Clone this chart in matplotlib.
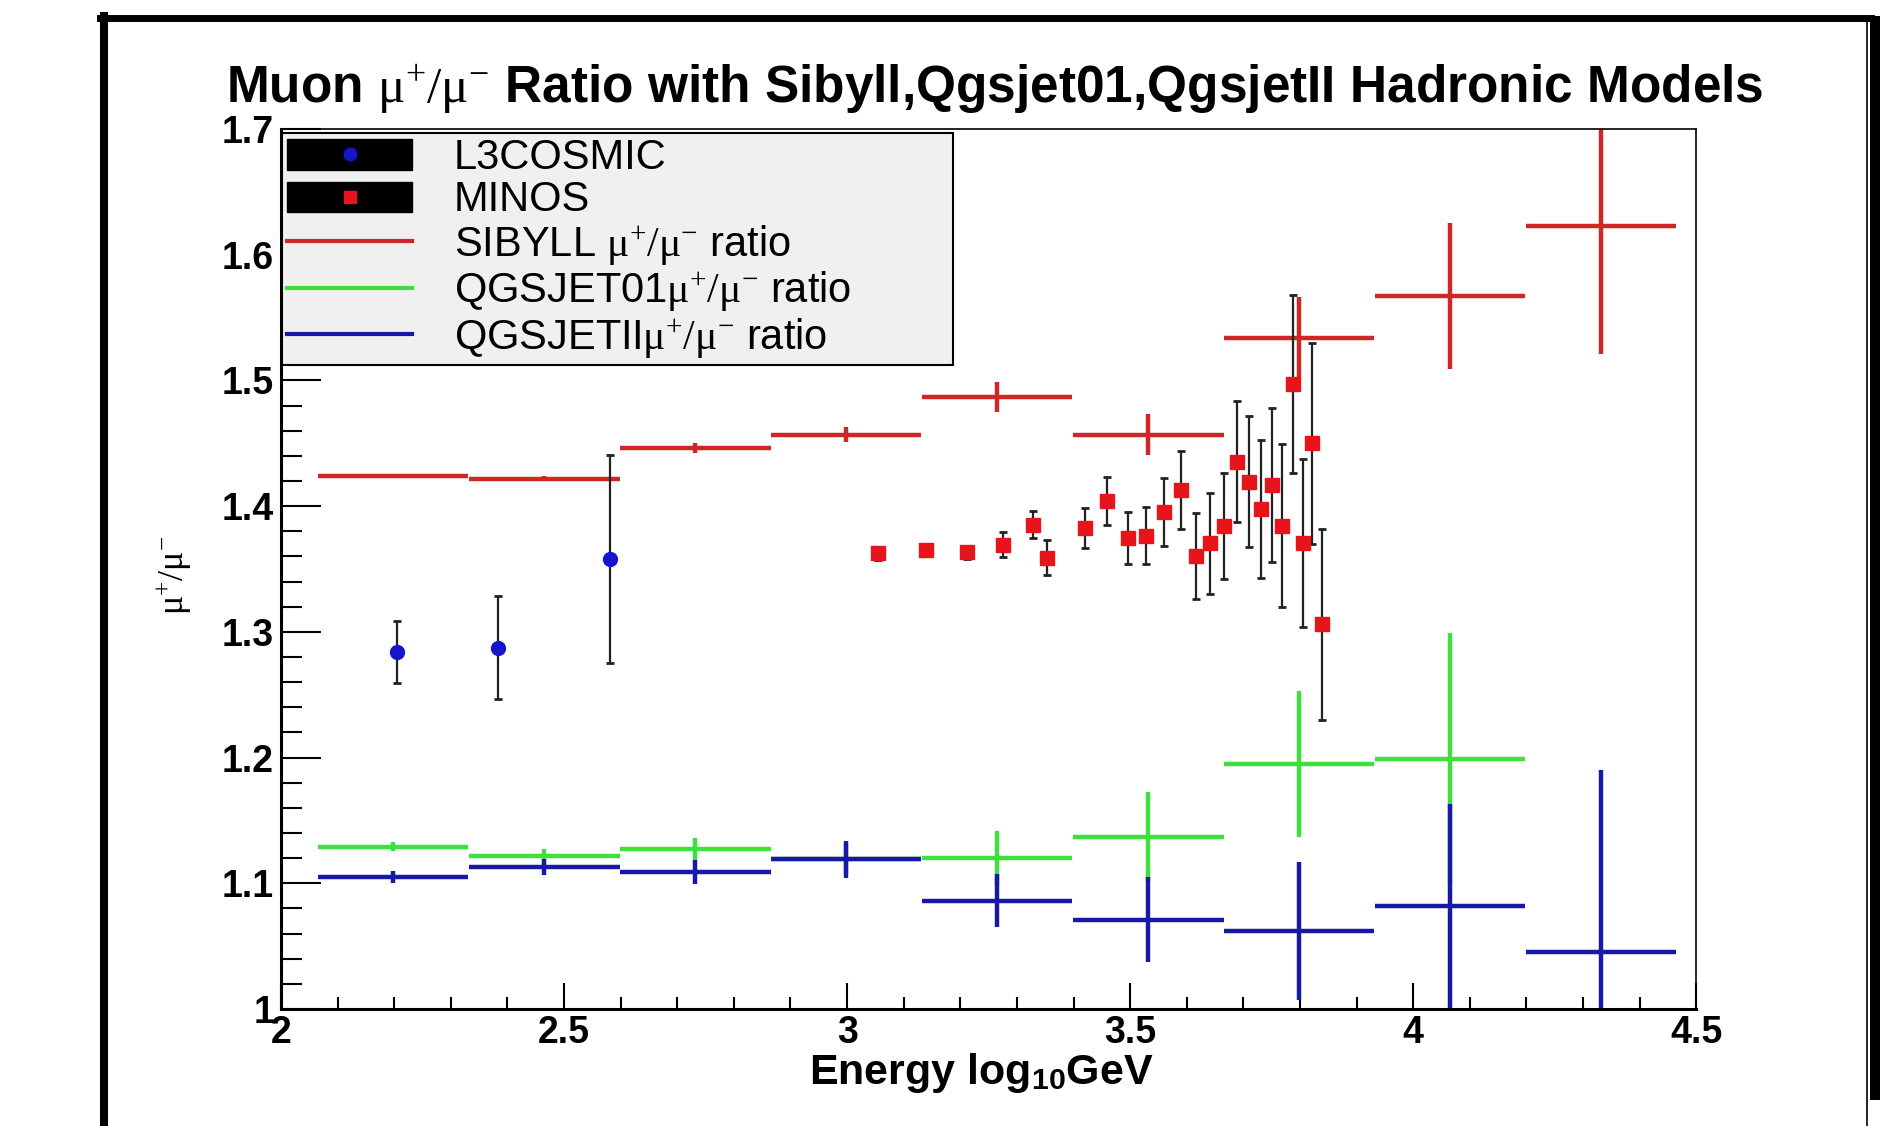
import numpy as np
import matplotlib
matplotlib.use('Agg')
import matplotlib.pyplot as plt
from matplotlib.lines import Line2D
from matplotlib.patches import Rectangle
from matplotlib.legend_handler import HandlerTuple
from matplotlib.ticker import MultipleLocator, FuncFormatter

plt.rcParams['font.family'] = ['Liberation Sans', 'DejaVu Sans']
plt.rcParams['mathtext.fontset'] = 'custom'
plt.rcParams['mathtext.rm'] = 'Liberation Serif'
plt.rcParams['mathtext.it'] = 'Liberation Serif:italic'
plt.rcParams['mathtext.bf'] = 'Liberation Sans:bold'

# model bins (log10 E / GeV)
bin_x = [2.198, 2.465, 2.732, 2.998, 3.265, 3.532, 3.798, 4.065, 4.332]
bin_half = 0.133

sibyll_y = [1.424, 1.422, 1.446, 1.457, 1.487, 1.457, 1.534, 1.567, 1.623]
sibyll_err = [0.0015, 0.002, 0.004, 0.006, 0.012, 0.016, 0.032, 0.058, 0.102]

qgs01_y = [1.129, 1.122, 1.127, 1.119, 1.120, 1.137, 1.195, 1.199]
qgs01_err = [0.0036, 0.0056, 0.009, 0.012, 0.022, 0.036, 0.058, 0.100]

qgs2_y = [1.105, 1.113, 1.109, 1.119, 1.086, 1.071, 1.062, 1.082, 1.045]
qgs2_err = [0.005, 0.0063, 0.0093, 0.0146, 0.021, 0.034, 0.055, 0.081, 0.145]

# data
l3_x = [2.204, 2.383, 2.581]
l3_y = [1.284, 1.2875, 1.358]
l3_err = [0.025, 0.041, 0.083]

minos_x = [3.054, 3.139, 3.212, 3.275, 3.328, 3.353, 3.420, 3.460, 3.496, 3.528,
           3.560, 3.590, 3.617, 3.641, 3.666, 3.689, 3.710, 3.731, 3.750, 3.769,
           3.787, 3.805, 3.822, 3.839]
minos_y = [1.3625, 1.3655, 1.3633, 1.3694, 1.3853, 1.3589, 1.3824, 1.4044, 1.3747, 1.3766,
           1.3956, 1.4125, 1.3605, 1.3705, 1.3843, 1.4355, 1.4195, 1.3975, 1.4168, 1.3845,
           1.497, 1.3705, 1.450, 1.306]
minos_err = [0.005, 0.003, 0.005, 0.0097, 0.011, 0.014, 0.016, 0.019, 0.021, 0.023,
             0.027, 0.031, 0.034, 0.040, 0.042, 0.048, 0.052, 0.055, 0.061, 0.065,
             0.071, 0.067, 0.080, 0.076]

RED = '#d02626'
GREEN = '#3ee03e'
BLUE = '#1818a8'

fig = plt.figure(figsize=(18.8, 11.26), dpi=100)
ax = fig.add_axes([0.1495, 0.1039, 0.7527, 0.7815])

ax.errorbar(bin_x, sibyll_y, xerr=bin_half, yerr=sibyll_err, fmt='none',
            ecolor=RED, elinewidth=3.2, capsize=0)
ax.errorbar(bin_x[:len(qgs01_y)], qgs01_y, xerr=bin_half, yerr=qgs01_err, fmt='none',
            ecolor=GREEN, elinewidth=3.2, capsize=0)
ax.errorbar(bin_x, qgs2_y, xerr=bin_half, yerr=qgs2_err, fmt='none',
            ecolor=BLUE, elinewidth=3.2, capsize=0)

ax.errorbar(l3_x, l3_y, yerr=l3_err, fmt='o', color='#1515cc', ms=10,
            ecolor='#222222', elinewidth=1.6, capsize=3, capthick=2, zorder=5)
ax.errorbar(minos_x, minos_y, yerr=minos_err, fmt='s', color='#e8141c', ms=9.5,
            ecolor='#222222', elinewidth=1.6, capsize=3, capthick=2, zorder=5)

ax.set_xlim(2, 4.5)
ax.set_ylim(1, 1.7)
ax.xaxis.set_major_locator(MultipleLocator(0.5))
ax.xaxis.set_minor_locator(MultipleLocator(0.1))
ax.yaxis.set_major_locator(MultipleLocator(0.1))
ax.yaxis.set_minor_locator(MultipleLocator(0.02))
fmt = FuncFormatter(lambda v, p: f'{v:g}')
ax.xaxis.set_major_formatter(fmt)
ax.yaxis.set_major_formatter(fmt)
ax.tick_params(axis='both', which='both', direction='in', top=False, right=False,
               width=1.5, labelsize=27)
ax.tick_params(axis='y', which='major', length=29, pad=5)
ax.tick_params(axis='y', which='minor', length=15)
ax.tick_params(axis='x', which='major', length=19, pad=4)
ax.tick_params(axis='x', which='minor', length=9)
for lab in ax.get_xticklabels() + ax.get_yticklabels():
    lab.set_fontweight('bold')
ax.spines['left'].set_linewidth(2.2)
ax.spines['bottom'].set_linewidth(2.2)
ax.spines['top'].set_linewidth(1.2)
ax.spines['right'].set_linewidth(1.2)

mu = r'$\mathrm{\mu}^{+}/\mathrm{\mu}^{-}$'

# legend
box1 = Rectangle((0, 0), 1, 1, facecolor='black', edgecolor='black')
box2 = Rectangle((0, 0), 1, 1, facecolor='black', edgecolor='black')
m1 = Line2D([], [], ls='none', marker='o', color='#1515cc', ms=9)
m2 = Line2D([], [], ls='none', marker='s', color='#e8141c', ms=9)
handles = [(box1, m1), (box2, m2),
           Line2D([], [], color=RED, lw=3),
           Line2D([], [], color=GREEN, lw=3),
           Line2D([], [], color=BLUE, lw=3)]
labels = ['L3COSMIC', 'MINOS', 'SIBYLL ' + mu + ' ratio',
          'QGSJET01' + mu + ' ratio', 'QGSJETII' + mu + ' ratio']
leg = ax.legend(handles, labels, handler_map={tuple: HandlerTuple(ndivide=1, pad=0)},
                loc='upper left', bbox_to_anchor=(0.0007, 0.735, 0.474, 0.2605),
                mode='expand', borderaxespad=0, fontsize=30, handlelength=3.0,
                handleheight=0.74, handletextpad=1.0, labelspacing=0.06,
                borderpad=0.12, fancybox=False, framealpha=1)
leg.get_frame().set_facecolor('#f0f0f0')
leg.get_frame().set_edgecolor('black')
leg.get_frame().set_linewidth(1.5)

fig.text(0.529, 0.909, 'Muon ' + mu + ' Ratio with Sibyll,Qgsjet01,QgsjetII Hadronic Models',
         ha='center', va='baseline', fontsize=37, fontweight='bold')
fig.text(0.522, 0.037, r'Energy log$_{\mathbf{10}}$GeV', ha='center', va='baseline',
         fontsize=31, fontweight='bold')
fig.text(0.0926, 0.489, mu, ha='center', va='center', rotation=90, fontsize=26)

# outer frame
fig.add_artist(Line2D([0.053, 0.995], [0.984, 0.984], color='black', lw=5,
                      transform=fig.transFigure))
fig.add_artist(Line2D([0.0555, 0.0555], [0.0, 0.986], color='black', lw=5.8,
                      transform=fig.transFigure))
fig.add_artist(Line2D([0.9932, 0.9932], [0.0, 0.985], color='black', lw=1.2,
                      transform=fig.transFigure))
fig.add_artist(Rectangle((0.9946, 0.023), 0.0054, 0.963, facecolor='black',
                         edgecolor='none', transform=fig.transFigure))

fig.savefig('out.png', dpi=100)
